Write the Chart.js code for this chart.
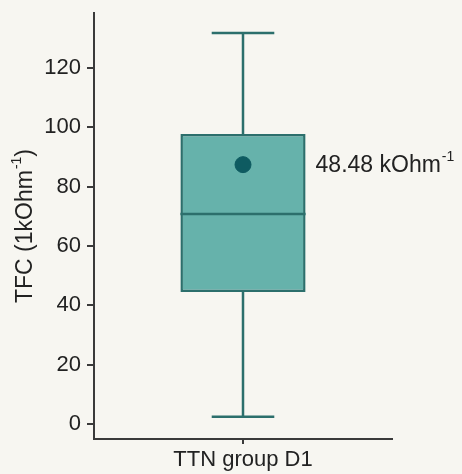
<!DOCTYPE html>
<html>
<head>
<meta charset="utf-8">
<script src="https://cdn.jsdelivr.net/npm/chart.js@4.4.1/dist/chart.umd.min.js"></script>
<style>
    body { margin: 0; background: #f7f6f1; }
    #caixa { width: 462px; height: 474px; position: relative; }
</style>
</head>
<body>
<div id="caixa"><canvas id="graficoTfc"></canvas></div>
<script>
// dados
const categorias = ['TTN group D1']
const quartis = [[44.5, 97.7]]
const medianas = [70.8]
const bigodeMin = [2.4]
const bigodeMax = [131.8]
const medias = [87.4]
const ticksY = [0, 20, 40, 60, 80, 100, 120]
const rotuloMedia = '48.48 kOhm'
const tituloY = 'TFC (1kOhm'

const corBorda = '#2c6f6c'
const corTexto = '#222222'
const fonte = 'Liberation Sans, Arial, sans-serif'

// escreve texto com expoente -1
function textoComExpoente(ctx, texto, x, y, tamanho) {
    ctx.font = `${tamanho}px ${fonte}`
    let w1 = ctx.measureText(texto).width
    ctx.fillText(texto, x, y)
    ctx.font = `${Math.round(tamanho * 0.62)}px ${fonte}`
    ctx.fillText('-1', x + w1 + 1, y - tamanho * 0.38)
    return w1 + 1 + ctx.measureText('-1').width
}

const pluginBoxplot = {
    id: 'boxplot',
    beforeDatasetsDraw(chart) {
        const ctx = chart.ctx
        const x = chart.scales.x
        const y = chart.scales.y
        const barra = chart.getDatasetMeta(1).data
        ctx.save()
        ctx.strokeStyle = corBorda
        ctx.lineWidth = 2.5
        for (let i = 0; i < categorias.length; i++) {
            let cx = x.getPixelForValue(i)
            let meia = barra[i].width / 4
            let yMax = y.getPixelForValue(bigodeMax[i])
            let yMin = y.getPixelForValue(bigodeMin[i])
            let yQ3 = y.getPixelForValue(quartis[i][1])
            let yQ1 = y.getPixelForValue(quartis[i][0])
            ctx.beginPath()
            ctx.moveTo(cx, yMax); ctx.lineTo(cx, yQ3)
            ctx.moveTo(cx, yQ1); ctx.lineTo(cx, yMin)
            ctx.moveTo(cx - meia, yMax); ctx.lineTo(cx + meia, yMax)
            ctx.moveTo(cx - meia, yMin); ctx.lineTo(cx + meia, yMin)
            ctx.stroke()
        }
        ctx.restore()
    },
    afterDatasetsDraw(chart) {
        const ctx = chart.ctx
        const y = chart.scales.y
        const barra = chart.getDatasetMeta(1).data
        ctx.save()
        ctx.strokeStyle = corBorda
        ctx.lineWidth = 2.5
        for (let i = 0; i < categorias.length; i++) {
            let b = barra[i]
            let ym = y.getPixelForValue(medianas[i])
            ctx.beginPath()
            ctx.moveTo(b.x - b.width / 2, ym)
            ctx.lineTo(b.x + b.width / 2, ym)
            ctx.stroke()
        }
        // rotulo da media
        let b = barra[0]
        ctx.fillStyle = corTexto
        ctx.textBaseline = 'middle'
        ctx.textAlign = 'left'
        textoComExpoente(ctx, rotuloMedia, b.x + b.width / 2 + 10, y.getPixelForValue(medias[0]) + 1, 23)
        ctx.restore()
    },
    afterDraw(chart) {
        // titulo do eixo y
        const ctx = chart.ctx
        const area = chart.chartArea
        ctx.save()
        ctx.fillStyle = corTexto
        ctx.textBaseline = 'middle'
        ctx.textAlign = 'left'
        ctx.font = `23px ${fonte}`
        let w = ctx.measureText(tituloY).width
        ctx.font = `14px ${fonte}`
        let ws = ctx.measureText('-1').width
        ctx.font = `23px ${fonte}`
        let wp = ctx.measureText(')').width
        let total = w + 1 + ws + wp
        ctx.translate(26, (area.top + area.bottom) / 2)
        ctx.rotate(-Math.PI / 2)
        let x0 = -total / 2
        let wt = textoComExpoente(ctx, tituloY, x0, 0, 23)
        ctx.font = `23px ${fonte}`
        ctx.fillText(')', x0 + wt, 0)
        ctx.restore()
    }
}

const graficoTfc = document.getElementById('graficoTfc')

new Chart(graficoTfc, {
    type: 'bar',
    data: {
        labels: categorias,
        datasets: [
            {
                type: 'line',
                data: medias,
                showLine: false,
                pointRadius: 8,
                pointBackgroundColor: '#0e5b61',
                pointBorderColor: '#0e5b61',
                order: 0
            },
            {
                type: 'bar',
                data: quartis,
                backgroundColor: '#66b2ab',
                borderColor: corBorda,
                borderWidth: 2.5,
                borderSkipped: false,
                barPercentage: 0.42,
                categoryPercentage: 1,
                order: 1
            }
        ]
    },
    options: {
        responsive: true,
        maintainAspectRatio: false,
        animation: false,
        layout: {
            padding: { top: 13, right: 70, bottom: 0, left: 0 }
        },
        plugins: {
            legend: { display: false },
            tooltip: { enabled: false }
        },
        scales: {
            y: {
                min: -5.06,
                max: 138.5,
                afterBuildTicks: function (scale) {
                    scale.ticks = ticksY.map(v => ({ value: v }))
                },
                afterFit: function (scale) {
                    scale.width = 94
                    scale.paddingTop = 0
                    scale.paddingBottom = 0
                },
                border: { display: true, color: '#3a3a3a', width: 2 },
                grid: {
                    drawOnChartArea: false,
                    color: '#3a3a3a',
                    lineWidth: 2,
                    tickLength: 7
                },
                ticks: {
                    color: corTexto,
                    padding: 6,
                    font: { size: 22, family: fonte }
                }
            },
            x: {
                afterFit: function (scale) {
                    scale.height = 35
                },
                border: { display: true, color: '#3a3a3a', width: 2 },
                grid: {
                    offset: false,
                    drawOnChartArea: false,
                    color: '#3a3a3a',
                    lineWidth: 2,
                    tickLength: 5
                },
                ticks: {
                    color: corTexto,
                    padding: 3,
                    font: { size: 22, family: fonte }
                }
            }
        }
    },
    plugins: [pluginBoxplot]
})
</script>
</body>
</html>
